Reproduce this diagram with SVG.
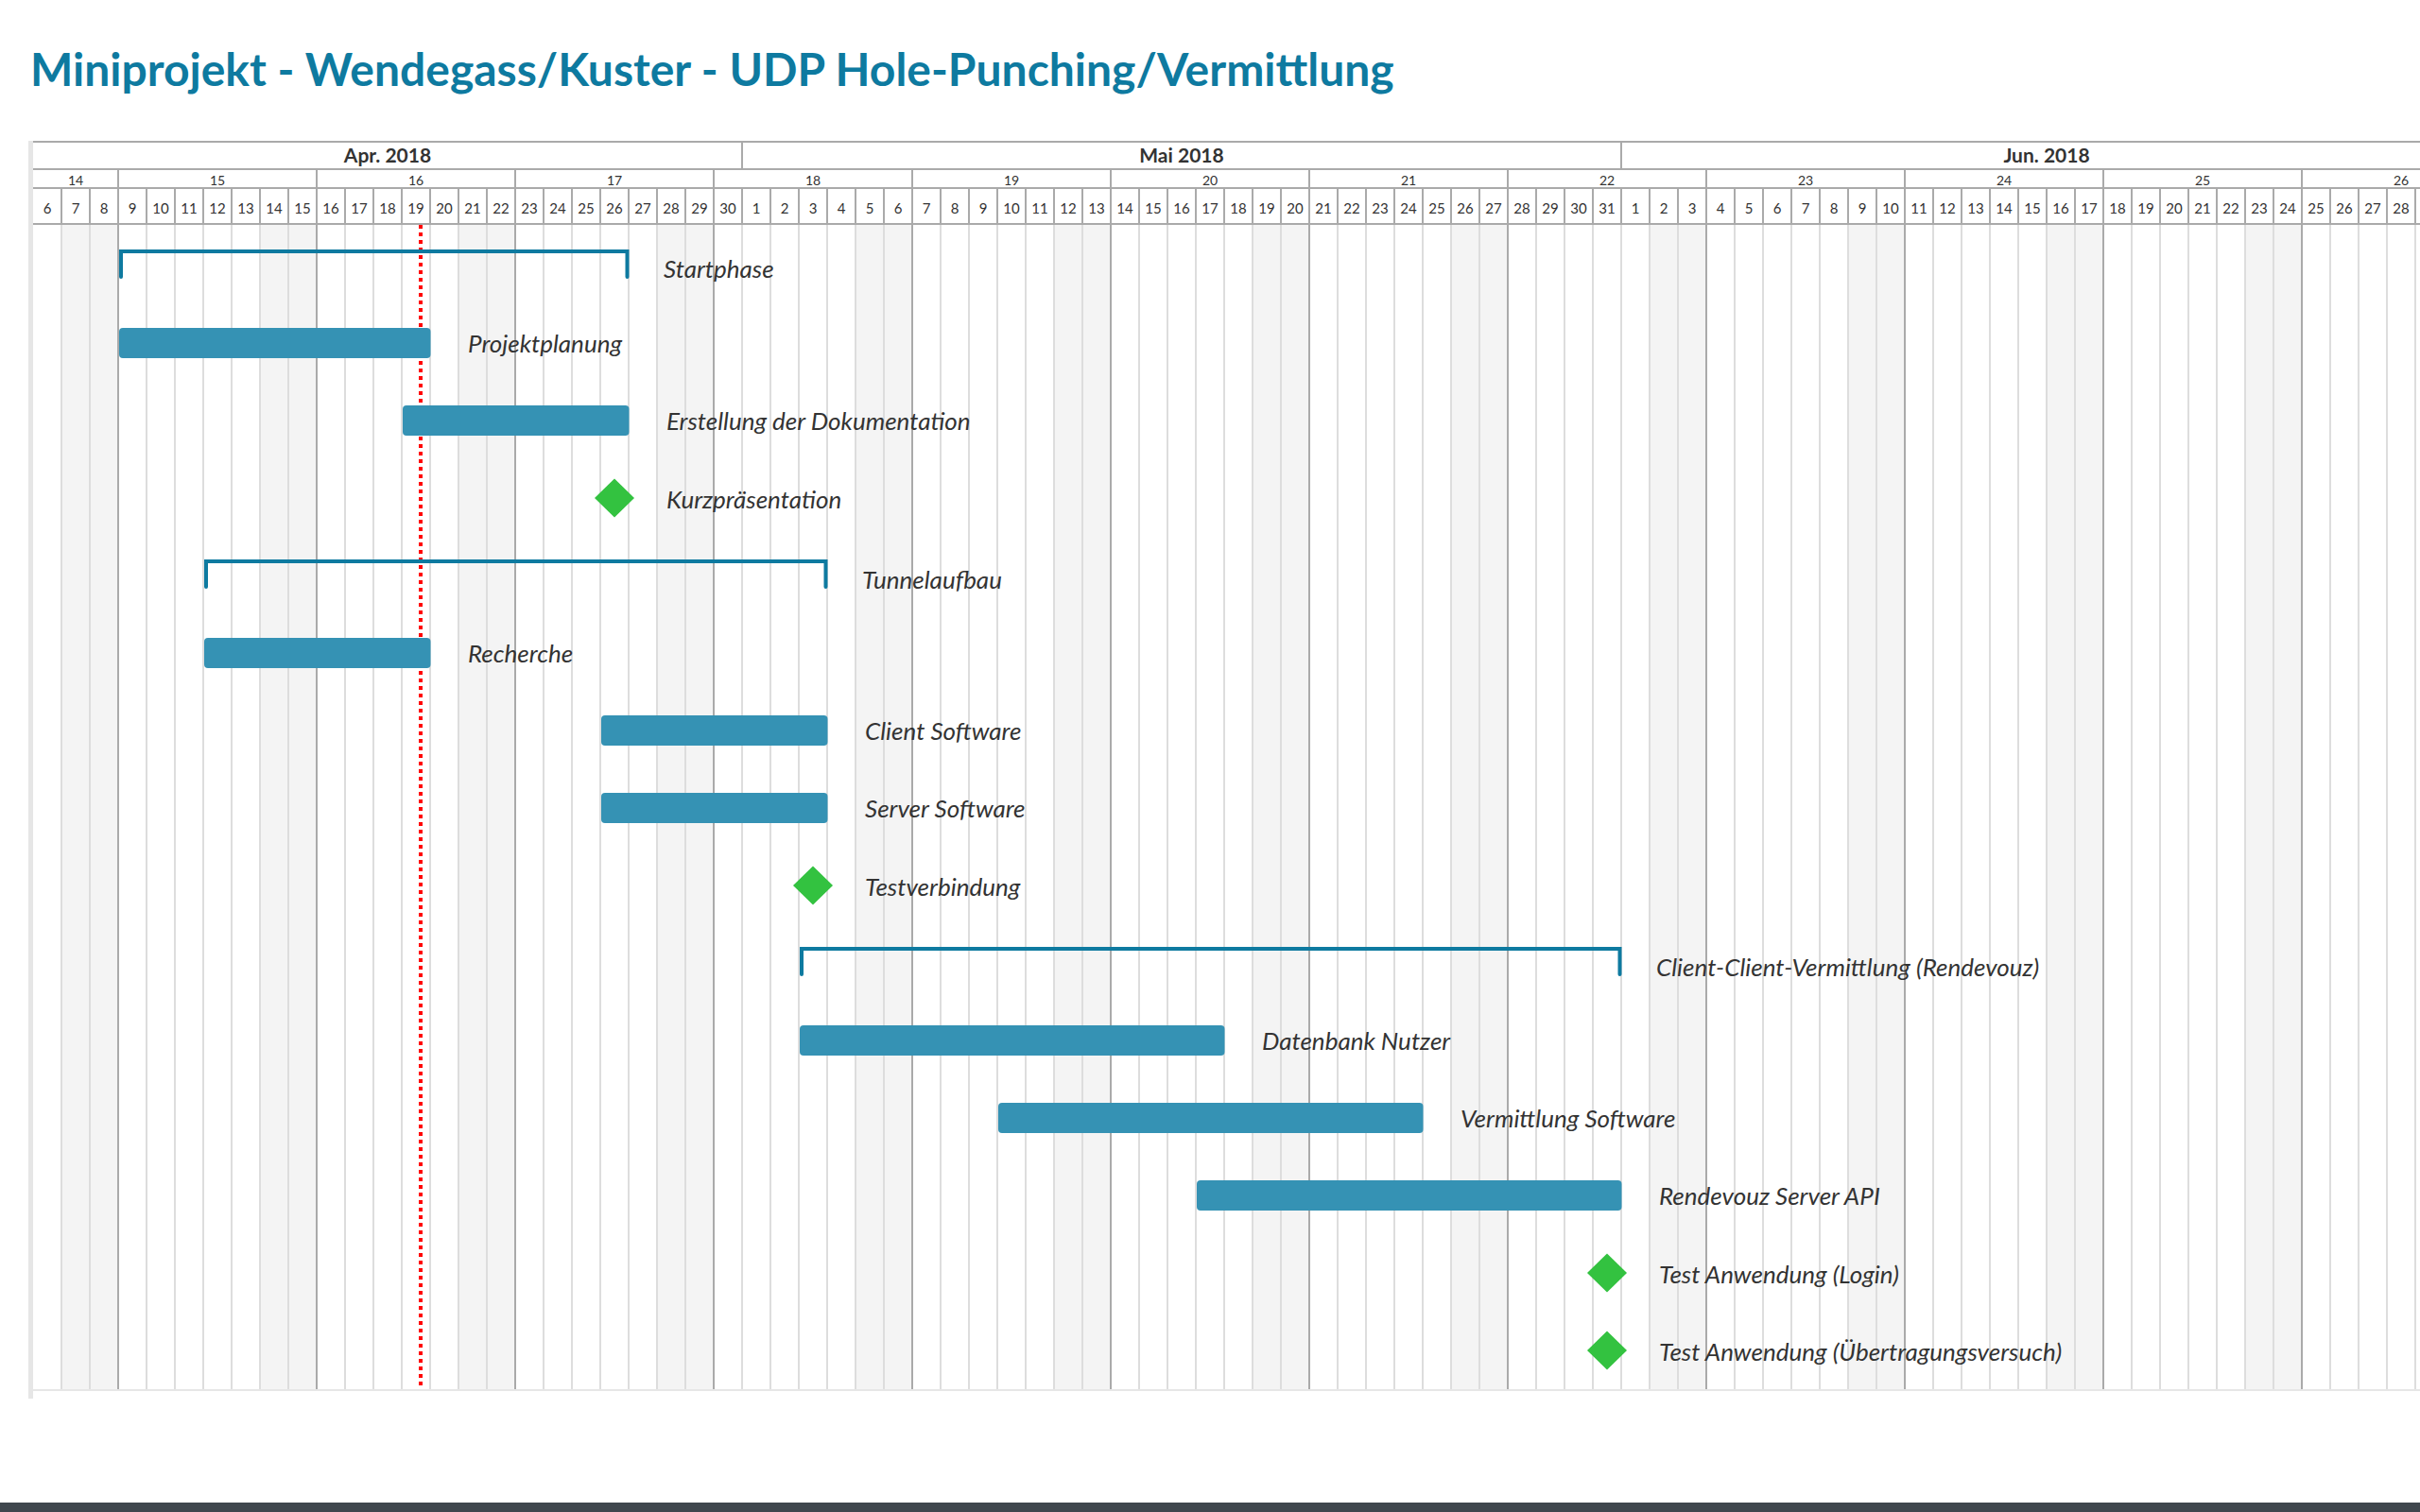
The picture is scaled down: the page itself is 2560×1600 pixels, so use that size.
<svg xmlns="http://www.w3.org/2000/svg" xmlns:xlink="http://www.w3.org/1999/xlink" width="2560" height="1600" viewBox="0 0 2560 1600">
<style>
text{font-family:Lato,"Liberation Sans",sans-serif;fill:#333}
.title{font-size:48px;font-weight:700;fill:#0e7aa0}
.month{font-size:21px;font-weight:700;text-anchor:middle}
.week{font-size:14px;text-anchor:middle}
.day{font-size:15px;text-anchor:middle}
.lbl{font-size:26px;font-style:italic}
.bar{fill:#3592b4}
.brk{fill:none;stroke:#0e7aa0;stroke-width:4;stroke-linecap:round}
.ms{fill:#33c240}
.wk{fill:#f4f4f4}
</style>
<defs>
<path id="diamond" d="M0,-20.5 L21,0 L0,20.5 L-21,0 Z"/>
</defs>
<rect width="2560" height="1600" fill="#fff"/>
<text class="title" x="32" y="91">Miniprojekt - Wendegass/Kuster - UDP Hole-Punching/Vermittlung</text>

<g id="grid">
<g id="weekends">
<rect class="wk" x="65" y="237" width="60" height="1233"/>
<rect class="wk" x="275" y="237" width="60" height="1233"/>
<rect class="wk" x="485" y="237" width="60" height="1233"/>
<rect class="wk" x="695" y="237" width="60" height="1233"/>
<rect class="wk" x="905" y="237" width="60" height="1233"/>
<rect class="wk" x="1115" y="237" width="60" height="1233"/>
<rect class="wk" x="1325" y="237" width="60" height="1233"/>
<rect class="wk" x="1535" y="237" width="60" height="1233"/>
<rect class="wk" x="1745" y="237" width="60" height="1233"/>
<rect class="wk" x="1955" y="237" width="60" height="1233"/>
<rect class="wk" x="2165" y="237" width="60" height="1233"/>
<rect class="wk" x="2375" y="237" width="60" height="1233"/>
</g>
<path id="daylines" stroke="#ddd" stroke-width="2" fill="none" d="M65 237V1470M95 237V1470M155 237V1470M185 237V1470M215 237V1470M245 237V1470M275 237V1470M305 237V1470M365 237V1470M395 237V1470M425 237V1470M455 237V1470M485 237V1470M515 237V1470M575 237V1470M605 237V1470M635 237V1470M665 237V1470M695 237V1470M725 237V1470M785 237V1470M815 237V1470M845 237V1470M875 237V1470M905 237V1470M935 237V1470M995 237V1470M1025 237V1470M1055 237V1470M1085 237V1470M1115 237V1470M1145 237V1470M1205 237V1470M1235 237V1470M1265 237V1470M1295 237V1470M1325 237V1470M1355 237V1470M1415 237V1470M1445 237V1470M1475 237V1470M1505 237V1470M1535 237V1470M1565 237V1470M1625 237V1470M1655 237V1470M1685 237V1470M1715 237V1470M1745 237V1470M1775 237V1470M1835 237V1470M1865 237V1470M1895 237V1470M1925 237V1470M1955 237V1470M1985 237V1470M2045 237V1470M2075 237V1470M2105 237V1470M2135 237V1470M2165 237V1470M2195 237V1470M2255 237V1470M2285 237V1470M2315 237V1470M2345 237V1470M2375 237V1470M2405 237V1470M2465 237V1470M2495 237V1470M2525 237V1470M2555 237V1470"/>
<path id="weeklines" stroke="#aaa" stroke-width="2" fill="none" d="M125 237V1470M335 237V1470M545 237V1470M755 237V1470M965 237V1470M1175 237V1470M1385 237V1470M1595 237V1470M1805 237V1470M2015 237V1470M2225 237V1470M2435 237V1470"/>
<rect x="30" y="149" width="5" height="1331" fill="#e6e6e6"/>
<rect x="35" y="1470" width="2525" height="2" fill="#e6e6e6"/>
</g>

<g id="header">
<path stroke="#aaa" stroke-width="2" fill="none" d="M35 150H2560M35 179H2560M35 199H2560M35 237H2560M785 150V179M1715 150V179M125 179V199M335 179V199M545 179V199M755 179V199M965 179V199M1175 179V199M1385 179V199M1595 179V199M1805 179V199M2015 179V199M2225 179V199M2435 179V199"/>
<path stroke="#aaa" stroke-width="2" fill="none" d="M65 199V237M95 199V237M125 199V237M155 199V237M185 199V237M215 199V237M245 199V237M275 199V237M305 199V237M335 199V237M365 199V237M395 199V237M425 199V237M455 199V237M485 199V237M515 199V237M545 199V237M575 199V237M605 199V237M635 199V237M665 199V237M695 199V237M725 199V237M755 199V237M785 199V237M815 199V237M845 199V237M875 199V237M905 199V237M935 199V237M965 199V237M995 199V237M1025 199V237M1055 199V237M1085 199V237M1115 199V237M1145 199V237M1175 199V237M1205 199V237M1235 199V237M1265 199V237M1295 199V237M1325 199V237M1355 199V237M1385 199V237M1415 199V237M1445 199V237M1475 199V237M1505 199V237M1535 199V237M1565 199V237M1595 199V237M1625 199V237M1655 199V237M1685 199V237M1715 199V237M1745 199V237M1775 199V237M1805 199V237M1835 199V237M1865 199V237M1895 199V237M1925 199V237M1955 199V237M1985 199V237M2015 199V237M2045 199V237M2075 199V237M2105 199V237M2135 199V237M2165 199V237M2195 199V237M2225 199V237M2255 199V237M2285 199V237M2315 199V237M2345 199V237M2375 199V237M2405 199V237M2435 199V237M2465 199V237M2495 199V237M2525 199V237M2555 199V237"/>
<text class="month" x="410" y="172">Apr. 2018</text>
<text class="month" x="1250" y="172">Mai 2018</text>
<text class="month" x="2165" y="172">Jun. 2018</text>
<text class="week" x="80" y="196">14</text>
<text class="week" x="230" y="196">15</text>
<text class="week" x="440" y="196">16</text>
<text class="week" x="650" y="196">17</text>
<text class="week" x="860" y="196">18</text>
<text class="week" x="1070" y="196">19</text>
<text class="week" x="1280" y="196">20</text>
<text class="week" x="1490" y="196">21</text>
<text class="week" x="1700" y="196">22</text>
<text class="week" x="1910" y="196">23</text>
<text class="week" x="2120" y="196">24</text>
<text class="week" x="2330" y="196">25</text>
<text class="week" x="2540" y="196">26</text>
<text class="day" x="50" y="226">6</text>
<text class="day" x="80" y="226">7</text>
<text class="day" x="110" y="226">8</text>
<text class="day" x="140" y="226">9</text>
<text class="day" x="170" y="226">10</text>
<text class="day" x="200" y="226">11</text>
<text class="day" x="230" y="226">12</text>
<text class="day" x="260" y="226">13</text>
<text class="day" x="290" y="226">14</text>
<text class="day" x="320" y="226">15</text>
<text class="day" x="350" y="226">16</text>
<text class="day" x="380" y="226">17</text>
<text class="day" x="410" y="226">18</text>
<text class="day" x="440" y="226">19</text>
<text class="day" x="470" y="226">20</text>
<text class="day" x="500" y="226">21</text>
<text class="day" x="530" y="226">22</text>
<text class="day" x="560" y="226">23</text>
<text class="day" x="590" y="226">24</text>
<text class="day" x="620" y="226">25</text>
<text class="day" x="650" y="226">26</text>
<text class="day" x="680" y="226">27</text>
<text class="day" x="710" y="226">28</text>
<text class="day" x="740" y="226">29</text>
<text class="day" x="770" y="226">30</text>
<text class="day" x="800" y="226">1</text>
<text class="day" x="830" y="226">2</text>
<text class="day" x="860" y="226">3</text>
<text class="day" x="890" y="226">4</text>
<text class="day" x="920" y="226">5</text>
<text class="day" x="950" y="226">6</text>
<text class="day" x="980" y="226">7</text>
<text class="day" x="1010" y="226">8</text>
<text class="day" x="1040" y="226">9</text>
<text class="day" x="1070" y="226">10</text>
<text class="day" x="1100" y="226">11</text>
<text class="day" x="1130" y="226">12</text>
<text class="day" x="1160" y="226">13</text>
<text class="day" x="1190" y="226">14</text>
<text class="day" x="1220" y="226">15</text>
<text class="day" x="1250" y="226">16</text>
<text class="day" x="1280" y="226">17</text>
<text class="day" x="1310" y="226">18</text>
<text class="day" x="1340" y="226">19</text>
<text class="day" x="1370" y="226">20</text>
<text class="day" x="1400" y="226">21</text>
<text class="day" x="1430" y="226">22</text>
<text class="day" x="1460" y="226">23</text>
<text class="day" x="1490" y="226">24</text>
<text class="day" x="1520" y="226">25</text>
<text class="day" x="1550" y="226">26</text>
<text class="day" x="1580" y="226">27</text>
<text class="day" x="1610" y="226">28</text>
<text class="day" x="1640" y="226">29</text>
<text class="day" x="1670" y="226">30</text>
<text class="day" x="1700" y="226">31</text>
<text class="day" x="1730" y="226">1</text>
<text class="day" x="1760" y="226">2</text>
<text class="day" x="1790" y="226">3</text>
<text class="day" x="1820" y="226">4</text>
<text class="day" x="1850" y="226">5</text>
<text class="day" x="1880" y="226">6</text>
<text class="day" x="1910" y="226">7</text>
<text class="day" x="1940" y="226">8</text>
<text class="day" x="1970" y="226">9</text>
<text class="day" x="2000" y="226">10</text>
<text class="day" x="2030" y="226">11</text>
<text class="day" x="2060" y="226">12</text>
<text class="day" x="2090" y="226">13</text>
<text class="day" x="2120" y="226">14</text>
<text class="day" x="2150" y="226">15</text>
<text class="day" x="2180" y="226">16</text>
<text class="day" x="2210" y="226">17</text>
<text class="day" x="2240" y="226">18</text>
<text class="day" x="2270" y="226">19</text>
<text class="day" x="2300" y="226">20</text>
<text class="day" x="2330" y="226">21</text>
<text class="day" x="2360" y="226">22</text>
<text class="day" x="2390" y="226">23</text>
<text class="day" x="2420" y="226">24</text>
<text class="day" x="2450" y="226">25</text>
<text class="day" x="2480" y="226">26</text>
<text class="day" x="2510" y="226">27</text>
<text class="day" x="2540" y="226">28</text>
</g>

<line id="today" x1="445" y1="238" x2="445" y2="1470" stroke="#ff0000" stroke-width="4" stroke-dasharray="4 4"/>

<g id="connectors"></g>

<g id="task-startphase"><path class="brk" d="M128 293V266H663.5V293"/><text class="lbl" x="702" y="294">Startphase</text></g>
<g id="task-projektplanung"><rect class="bar" x="126" y="347" width="329.5" height="32" rx="4"/><text class="lbl" x="495" y="373">Projektplanung</text></g>
<g id="task-dokumentation"><rect class="bar" x="426" y="429" width="239.5" height="32" rx="4"/><text class="lbl" x="705" y="455">Erstellung der Dokumentation</text></g>
<g id="ms-kurzpraesentation"><use href="#diamond" xlink:href="#diamond" class="ms" x="650" y="527"/><text class="lbl" x="705" y="538">Kurzpräsentation</text></g>
<g id="task-tunnelaufbau"><path class="brk" d="M218 621V594H873.5V621"/><text class="lbl" x="912" y="623">Tunnelaufbau</text></g>
<g id="task-recherche"><rect class="bar" x="216" y="675" width="239.5" height="32" rx="4"/><text class="lbl" x="495" y="701">Recherche</text></g>
<g id="task-client"><rect class="bar" x="636" y="757" width="239.5" height="32" rx="4"/><text class="lbl" x="915" y="783">Client Software</text></g>
<g id="task-server"><rect class="bar" x="636" y="839" width="239.5" height="32" rx="4"/><text class="lbl" x="915" y="865">Server Software</text></g>
<g id="ms-testverbindung"><use href="#diamond" xlink:href="#diamond" class="ms" x="860" y="937"/><text class="lbl" x="915" y="948">Testverbindung</text></g>
<g id="task-vermittlung-phase"><path class="brk" d="M848 1031V1004H1713.5V1031"/><text class="lbl" x="1752" y="1033">Client-Client-Vermittlung (Rendevouz)</text></g>
<g id="task-datenbank"><rect class="bar" x="846" y="1085" width="449.5" height="32" rx="4"/><text class="lbl" x="1335" y="1111">Datenbank Nutzer</text></g>
<g id="task-vermittlung"><rect class="bar" x="1056" y="1167" width="449.5" height="32" rx="4"/><text class="lbl" x="1545" y="1193">Vermittlung Software</text></g>
<g id="task-api"><rect class="bar" x="1266" y="1249" width="449.5" height="32" rx="4"/><text class="lbl" x="1755" y="1275">Rendevouz Server API</text></g>
<g id="ms-login"><use href="#diamond" xlink:href="#diamond" class="ms" x="1700" y="1347"/><text class="lbl" x="1755" y="1358">Test Anwendung (Login)</text></g>
<g id="ms-uebertragung"><use href="#diamond" xlink:href="#diamond" class="ms" x="1700" y="1429"/><text class="lbl" x="1755" y="1440">Test Anwendung (Übertragungsversuch)</text></g>

<rect x="0" y="1590" width="2560" height="10" fill="#40474e"/>
</svg>
